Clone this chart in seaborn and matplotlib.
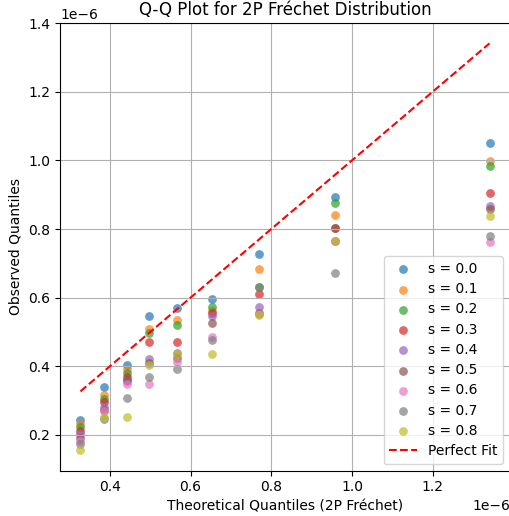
import matplotlib
matplotlib.use("Agg")
import matplotlib.pyplot as plt
import seaborn as sns
import numpy as np

theoretical = [0.327e-6, 0.385e-6, 0.442e-6, 0.498e-6, 0.567e-6, 0.654e-6, 0.770e-6, 0.958e-6, 1.341e-6]
s_values = [0.0, 0.1, 0.2, 0.3, 0.4, 0.5, 0.6, 0.7, 0.8]

s00 = [0.242, 0.339, 0.403, 0.546, 0.571, 0.596, 0.726, 0.893, 1.050]
s01 = [0.232, 0.316, 0.391, 0.509, 0.535, 0.562, 0.684, 0.842, 0.997]
s02 = [0.222, 0.304, 0.380, 0.496, 0.520, 0.573, 0.632, 0.876, 0.983]
s03 = [0.212, 0.297, 0.368, 0.471, 0.471, 0.554, 0.610, 0.803, 0.905]
s04 = [0.202, 0.280, 0.357, 0.420, 0.440, 0.547, 0.574, 0.766, 0.866]
s05 = [0.192, 0.273, 0.360, 0.410, 0.423, 0.525, 0.554, 0.803, 0.859]
s06 = [0.183, 0.270, 0.348, 0.347, 0.413, 0.486, 0.552, 0.765, 0.762]
s07 = [0.173, 0.247, 0.308, 0.370, 0.392, 0.476, 0.630, 0.672, 0.780]
s08 = [0.155, 0.251, 0.251, 0.403, 0.436, 0.435, 0.548, 0.765, 0.837]
observed = [s00, s01, s02, s03, s04, s05, s06, s07, s08]

colors = sns.color_palette("tab10", len(s_values))

fig = plt.figure(figsize=(5.1, 5.16), dpi=100)
ax = fig.add_axes([60 / 510, 45.3 / 516, 450 / 510, 447.7 / 516])

for s, obs, c in zip(s_values, observed, colors):
    sns.scatterplot(x=theoretical, y=np.array(obs) * 1e-6, ax=ax, color=c,
                    alpha=0.7, s=40, linewidth=0, label=f"s = {s:.1f}")

lo, hi = min(theoretical), max(theoretical)
ax.plot([lo, hi], [lo, hi], "r--", label="Perfect Fit")

ax.set_title("Q-Q Plot for 2P Fréchet Distribution")
ax.set_xlabel("Theoretical Quantiles (2P Fréchet)")
ax.set_ylabel("Observed Quantiles")
ax.grid(True)
ax.legend(loc="lower right", labelspacing=0.45)

fig.savefig("out.png", dpi=100)
